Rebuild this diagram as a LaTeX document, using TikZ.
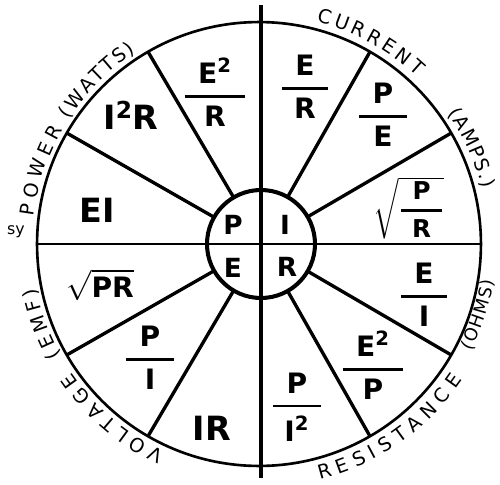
\documentclass[tikz,border=0pt]{standalone}
\usepackage{amsmath}
\usepackage{fontspec}
\setmainfont{DejaVu Sans}
\usepackage{tikz}
\usetikzlibrary{decorations.text}

\newcommand{\fracpart}[2]{\genfrac{}{}{1.6pt}{0}{\mkern8mu\text{#1}\mkern8mu}{\text{#2}}}
\newcommand{\frc}[2]{$\fracpart{#1}{#2}$}
\newcommand{\rimfont}{\fontsize{11}{13}\selectfont}

\begin{document}
\begin{tikzpicture}[x=0.02cm, y=0.02cm,
  ring/.style={circle, draw, inner sep=0pt, outer sep=0pt},
  spoke/.style={line width=1.9pt},
  formula/.style={font=\fontsize{16}{19}\selectfont\bfseries, inner sep=0pt},
  hubletter/.style={font=\fontsize{15}{17}\selectfont\bfseries, inner sep=0pt},
  outtext/.style={decorate, decoration={text along path, text align=fit to path}}]
\useasboundingbox (-261,-240) rectangle (239,244);

% wheel
\node[ring, line width=1.5pt, minimum size=8.88cm] (rim) at (-2,0) {};
\coordinate (top) at (0,239);
\coordinate (bottom) at (0,-234);
\draw[line width=1.9pt] (top) -- (bottom);
\draw[line width=1.2pt] (rim.180) -- (rim.0);
\foreach \a in {30,60,120,150,210,240,300,330}
  \draw[spoke] (rim.\a) -- (0,0);
\node[ring, line width=2.3pt, fill=white, minimum size=2.16cm] (hub) at (0,0) {};
\draw[line width=1.9pt] (hub.90) -- (hub.270);
\draw[line width=1.2pt] (hub.180) -- (hub.0);

% center letters
\node[hubletter] (p) at (-28,19) {P};
\node[hubletter] (i) at (24,19) {I};
\node[hubletter] (e) at (-28,-24) {E};
\node[hubletter] (r) at (26,-23) {R};

% formulas
\node[formula] (e2r) at (-46,152) {\frc{E\textsuperscript{2}}{R}};
\node[formula] (er) at (44,157) {\frc{E}{R}};
\node[formula] (pe) at (122,129) {\frc{P}{E}};
\node[formula, font=\fontsize{14}{16}\selectfont\bfseries] (spr) at (148,36) {$\sqrt{\fracpart{P}{R}}$};
\node[formula] (ei) at (163,-51) {\frc{E}{I}};
\node[formula] (e2p) at (112,-121) {\frc{E\textsuperscript{2}}{P}};
\node[formula] (pi2) at (36,-163) {\frc{P}{I\textsuperscript{2}}};
\node[formula, font=\fontsize{19}{21}\selectfont\bfseries] (ir) at (-49,-184) {IR};
\node[formula] (pi) at (-111,-114) {\frc{P}{I}};
\node[formula] (sqpr) at (-161,-41) {$\sqrt{\text{PR}}$};
\node[formula, font=\fontsize{19}{21}\selectfont\bfseries] (eitext) at (-164,34) {EI};
\node[formula, font=\fontsize{19}{21}\selectfont\bfseries] (i2r) at (-130,129) {I\textsuperscript{2}R};

% rim labels
\path[outtext, decoration={text={|\rimfont|CURRENT}}]
  (76:229) arc[start angle=76, end angle=47, radius=229];
\path[outtext, decoration={text={|\rimfont|(AMPS.)}}]
  (35:228) arc[start angle=35, end angle=14, radius=228];
\path[outtext, decoration={text={|\rimfont|(WATTS)}}]
  (147:229) arc[start angle=147, end angle=123, radius=229];
\path[outtext, decoration={text={|\rimfont|POWER}}]
  (173:229) arc[start angle=173, end angle=150, radius=229];
\path[outtext, decoration={text={|\rimfont|(EMF)}}]
  (209:229) arc[start angle=209, end angle=191, radius=229];
\path[outtext, decoration={text={|\rimfont|VOLTAGE}}]
  (245:229) arc[start angle=245, end angle=214, radius=229];
\path[outtext, decoration={text={|\rimfont|RESISTANCE}}]
  (-76:243) arc[start angle=-76, end angle=-34, radius=243];
\path[outtext, decoration={text={|\fontsize{10}{12}\selectfont|(OHMS)}}]
  (-27:236) arc[start angle=-27, end angle=-9, radius=236];
\node[font=\fontsize{9}{11}\selectfont] (sy) at (-245,12) {sy};
\end{tikzpicture}
\end{document}
